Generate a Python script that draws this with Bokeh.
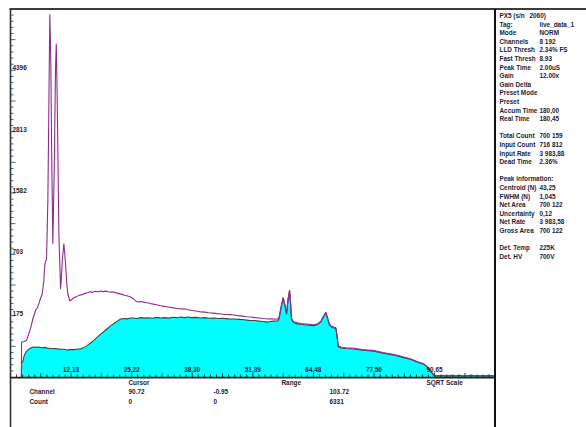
import math

from bokeh.embed import file_html
from bokeh.models import BoxAnnotation, ColumnDataSource, Label, Range1d
from bokeh.plotting import figure
from bokeh.resources import INLINE

# ---------------------------------------------------------------- data
# full spectrum (purple trace): channel / counts
total_channel = [
    1.40, 1.45, 2.00, 2.50, 3.00, 3.40, 3.90, 4.50, 4.90, 5.40,
    5.90, 6.25, 6.47, 6.84, 7.12, 7.30, 7.42, 7.55, 7.66, 7.77,
    7.98, 8.20, 8.50, 8.78, 8.94, 9.15, 9.50, 9.87, 10.05, 10.23,
    10.58, 10.95, 11.20, 11.44, 11.88, 12.30, 12.74, 13.30, 13.90, 14.50,
    15.10, 15.64, 16.20, 16.80, 17.40, 18.00, 18.52, 19.10, 19.60, 20.20,
    20.80, 21.33, 21.90, 22.50, 23.10, 23.70, 24.36, 25.00, 25.66, 26.10,
    26.52, 27.20, 27.82, 28.50, 29.20, 29.90, 30.60, 31.50, 32.30, 33.10,
    33.90, 34.80, 35.82, 36.60, 37.40, 38.30, 39.20, 40.15, 41.00, 41.90,
    42.80, 43.70, 44.60, 45.50, 46.40, 47.29, 48.20, 49.10, 50.00, 50.90,
    51.80, 52.70, 53.60, 54.64, 55.60, 56.30, 56.80, 57.09, 57.50, 57.95,
    58.30, 58.69, 59.00, 59.34, 59.55, 59.77, 60.20, 61.00, 61.78, 62.60,
    63.50, 64.66, 65.40, 66.10, 66.70, 67.19, 67.55, 67.90, 68.30, 68.64,
    69.35, 69.60, 69.85, 70.43, 71.50, 73.31, 75.00, 77.63, 79.50, 81.96,
    83.80, 85.57, 87.00, 88.45, 89.20, 89.90, 90.30, 90.61, 91.50, 92.40,
    93.30, 94.20, 95.10, 96.00, 96.90, 97.80, 98.70, 99.60, 100.50, 101.40,
    102.30, 103.20, 103.72,
]
total_counts = [
    0, 57, 59, 62, 88, 112, 160, 210, 225, 275,
    322, 431, 597, 651, 1448, 3000, 4473, 6150, 5400, 4473,
    2048, 827, 2048, 4473, 5194, 3561, 956, 362, 470, 629,
    831, 597, 410, 322, 270, 281, 294, 302, 312, 317,
    327, 332, 339, 335, 344, 339, 346, 341, 345, 340,
    337, 338, 331, 325, 319, 313, 307, 299, 284, 271,
    263, 266, 262, 258, 252, 248, 244, 237, 233, 229,
    225, 221, 216, 218, 211, 207, 204, 198, 197, 193,
    191, 188, 186, 183, 182, 180, 176, 173, 170, 168,
    165, 163, 160, 157, 158, 156, 158, 168, 232, 296,
    250, 190, 282, 354, 262, 160, 143, 137, 134, 132,
    130, 127, 133, 146, 175, 196, 165, 133, 122, 119,
    113, 80, 46, 42, 40, 38.5, 35, 32.5, 28, 23.5,
    19, 15.2, 11, 7.8, 4.5, 1.4, 0.5, 0.12, 0.08, 0.15,
    0.06, 0.12, 0.08, 0.14, 0.06, 0.10, 0.13, 0.07, 0.11, 0.08,
    0.12, 0.07, 0.10,
]

# region-of-interest spectrum (cyan area): channel / counts
roi_channel = [
    1.40, 1.45, 1.70, 2.00, 2.40, 2.70, 3.10, 3.50, 4.00, 4.60,
    5.20, 5.80, 6.40, 7.00, 7.70, 8.40, 9.10, 9.80, 10.50, 11.20,
    11.90, 12.60, 13.30, 14.20, 14.90, 15.60, 16.35, 17.00, 17.80, 18.52,
    19.30, 20.00, 20.68, 21.40, 22.10, 22.84, 23.60, 24.30, 25.00, 25.66,
    26.40, 27.20, 28.00, 28.80, 29.70, 30.60, 31.50, 32.40, 33.30, 34.20,
    35.00, 35.90, 36.60, 37.34, 38.20, 39.10, 40.15, 41.00, 42.00, 43.00,
    44.00, 45.00, 46.20, 47.29, 48.40, 49.50, 50.60, 51.70, 52.80, 53.70,
    54.64, 55.70, 56.80, 57.09, 57.50, 57.95, 58.30, 58.69, 59.00, 59.34,
    59.55, 59.77, 60.20, 61.00, 61.78, 62.60, 63.50, 64.66, 65.40, 66.10,
    66.70, 67.19, 67.55, 67.90, 68.30, 68.64, 69.35, 69.60, 69.85, 70.43,
    71.50, 73.31, 75.00, 77.63, 79.50, 81.96, 83.80, 85.57, 87.00, 88.45,
    89.20, 89.90, 90.30, 90.61, 91.50, 93.50, 95.50, 97.50, 99.50, 101.50,
    103.72,
]
roi_counts = [
    0, 9, 11, 21, 29, 33, 37, 40, 42, 41,
    42, 40, 41, 39, 38, 38, 37, 36, 36, 34,
    35, 35, 36, 37, 41, 46, 54, 62, 74, 86,
    98, 110, 122, 134, 146, 157, 160, 158, 163, 163,
    160, 165, 162, 164, 161, 166, 163, 165, 162, 167,
    164, 168, 165, 168, 165, 166, 163, 165, 161, 163,
    160, 161, 158, 157, 155, 153, 150, 149, 146, 144,
    141, 146, 147, 160, 224, 290, 244, 184, 273, 348,
    254, 154, 139, 132, 130, 128, 126, 123, 129, 142,
    170, 191, 160, 129, 118, 115, 109, 76, 43, 39.5,
    38, 36.5, 33.5, 31, 26.5, 22.3, 18, 14.3, 10.3, 7.2,
    4.2, 1.2, 0.4, 0.05, 0.04, 0.05, 0.04, 0.05, 0.04, 0.05,
    0.04,
]

# axis ranges and ticks
CH_MIN, CH_MAX = -0.95, 103.72
COUNT_MAX = 6331
x_tick_values = [12.13, 25.22, 38.30, 51.39, 64.48, 77.56, 90.65]
x_tick_labels = ["12,13", "25,22", "38,30", "51,39", "64,48", "77,56", "90,65"]
y_tick_values = [175, 703, 1582, 2813, 4396]
y_tick_labels = ["175", "703", "1582", "2813", "4396"]

# status panel (label, value)
status_rows = [
    ("PX5 (s/n", "2060)"),
    ("Tag:", "live_data_1"),
    ("Mode", "NORM"),
    ("Channels", "8 192"),
    ("LLD Thresh", "2.34% FS"),
    ("Fast Thresh", "8.93"),
    ("Peak Time", "2.00uS"),
    ("Gain", "12.00x"),
    ("Gain Delta", ""),
    ("Preset Mode", ""),
    ("Preset", ""),
    ("Accum Time", "180,00"),
    ("Real Time", "180,45"),
    None,
    ("Total Count", "700 159"),
    ("Input Count", "716 812"),
    ("Input Rate", "3 983,88"),
    ("Dead Time", "2.36%"),
    None,
    ("Peak information:", ""),
    ("Centroid (N)", "43,25"),
    ("FWHM (N)", "1,045"),
    ("Net Area", "700 122"),
    ("Uncertainty", "0,12"),
    ("Net Rate", "3 983,58"),
    ("Gross Area", "700 122"),
    None,
    ("Det. Temp", "225K"),
    ("Det. HV", "700V"),
]

# cursor / range readout under the spectrum
readout_headers = ["Cursor", "Range", "SQRT Scale"]
readout_rows = [
    ("Channel", ["90.72", "-0.95", "103.72"]),
    ("Count", ["0", "0", "6331"]),
]

# ---------------------------------------------------------------- layout
W, H = 586, 427
LEFT_PX, RIGHT_PX = 10.0, 494.5      # spectrum area, canvas pixels
TOP_PX, ZERO_PX = 8.5, 376.5

x_scale = (RIGHT_PX - LEFT_PX) / (CH_MAX - CH_MIN)
y_top = math.sqrt(COUNT_MAX)
y_scale = (ZERO_PX - TOP_PX) / y_top

p = figure(
    width=W, height=H,
    x_range=Range1d(CH_MIN - LEFT_PX / x_scale, CH_MAX + (W - RIGHT_PX) / x_scale),
    y_range=Range1d(-(H - ZERO_PX) / y_scale, y_top + TOP_PX / y_scale),
    x_axis_type=None, y_axis_type=None,
    toolbar_location=None, output_backend="svg", min_border=0,
)
p.outline_line_color = None
p.background_fill_color = "white"
p.border_fill_color = "white"

FONT = "Liberation Sans"
INK = "#1c1c38"
FS = "6.4px"

# ---------------------------------------------------------------- spectra (sqrt count scale)
roi = ColumnDataSource(dict(
    x=roi_channel,
    y=[math.sqrt(v) for v in roi_counts],
    base=[0.0] * len(roi_counts),
))
p.varea(x="x", y1="base", y2="y", source=roi, fill_color="#00FFFF")
p.line(x="x", y="y", source=roi, line_color="#3c463e", line_width=1.1)

tot = ColumnDataSource(dict(x=total_channel, y=[math.sqrt(v) for v in total_counts]))
p.line(x="x", y="y", source=tot, line_color="#8E2A92", line_width=1.1)

# ---------------------------------------------------------------- frame lines
def box(l, r, t, b, color):
    p.add_layout(BoxAnnotation(
        left=l, right=r, top=H - t, bottom=H - b,
        left_units="screen", right_units="screen",
        top_units="screen", bottom_units="screen",
        fill_color=color, fill_alpha=1.0, line_color=None, level="overlay",
    ))

box(9, W, 7.5, 9.5, "#3c3c3c")            # top rule
box(9.2, 10.8, 8.5, H, "#333333")          # left axis line
box(493.5, 495.5, 8.5, H, "#111111")       # separator to status panel
box(10, 495, 376.2, 378.0, "#222222")      # channel axis line

# ---------------------------------------------------------------- ticks
y_step = y_top / 60.0
y_minor = [i * y_step for i in range(1, 60)]
y_long = [v for i, v in enumerate(y_minor, start=1) if i % 5 == 0]
y_short = [v for i, v in enumerate(y_minor, start=1) if i % 5 != 0]
p.ray(x=[CH_MIN] * len(y_short), y=y_short, length=3, angle=0,
      length_units="screen", line_color="#3b6aa6", line_width=1)
p.ray(x=[CH_MIN] * len(y_long), y=y_long, length=5, angle=0,
      length_units="screen", line_color="#3b6aa6", line_width=1)

x_step = (x_tick_values[1] - x_tick_values[0]) / 10.0
x_minor = [CH_MIN + i * x_step for i in range(1, 80)]
x_long = [v for i, v in enumerate(x_minor, start=1) if i % 5 == 0]
x_short = [v for i, v in enumerate(x_minor, start=1) if i % 5 != 0]
p.ray(x=x_short, y=[0.0] * len(x_short), length=2.5, angle=math.pi / 2,
      length_units="screen", line_color="#333333", line_width=1)
p.ray(x=x_long, y=[0.0] * len(x_long), length=4, angle=math.pi / 2,
      length_units="screen", line_color="#333333", line_width=1)

# ---------------------------------------------------------------- tick labels
for v, t in zip(y_tick_values, y_tick_labels):
    p.add_layout(Label(
        x=CH_MIN, y=math.sqrt(v), x_offset=2, text=t,
        text_font=FONT, text_font_size=FS, text_font_style="bold",
        text_color=INK, text_baseline="bottom", text_align="left",
    ))

for v, t in zip(x_tick_values, x_tick_labels):
    p.add_layout(Label(
        x=v, y=H - 369, y_units="screen", text=t,
        text_font=FONT, text_font_size=FS, text_font_style="bold",
        text_color=INK, text_baseline="middle", text_align="center",
    ))

# ---------------------------------------------------------------- text panels
def put(text, x_px, y_px):
    p.add_layout(Label(
        x=x_px, y=H - y_px, x_units="screen", y_units="screen", text=text,
        text_font=FONT, text_font_size=FS, text_font_style="bold",
        text_color=INK, text_baseline="middle", text_align="left",
    ))

value_col = {"PX5 (s/n": 529}
for i, row in enumerate(status_rows):
    if row is None:
        continue
    label, val = row
    y_px = 15 + i * 8.6
    put(label, 499, y_px)
    if val:
        put(val, value_col.get(label, 539), y_px)

for name, x_px in zip(readout_headers, [128, 281, 426]):
    put(name, x_px, 381.5)
for r, (name, vals) in enumerate(readout_rows):
    y_px = 390.5 + r * 10.5
    put(name, 29, y_px)
    for v, x_px in zip(vals, [128, 213, 329]):
        put(v, x_px, y_px)

open("out.html", "w").write(file_html(p, INLINE))
